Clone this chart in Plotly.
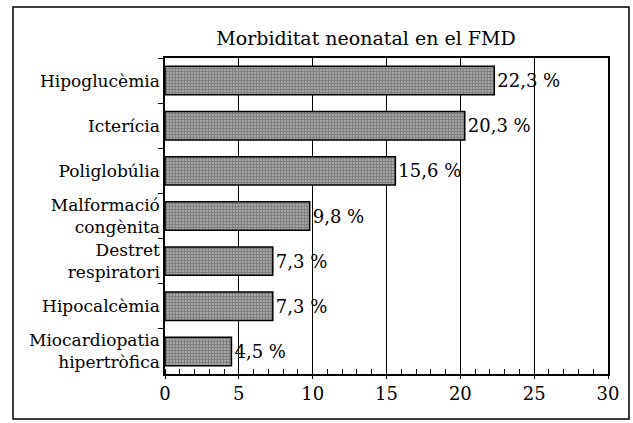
import plotly.graph_objects as go

categories = ["Hipoglucèmia", "Icterícia", "Poliglobúlia", "Malformació<br>congènita",
              "Destret<br>respiratori", "Hipocalcèmia", "Miocardiopatia<br>hipertròfica"]
values = [22.3, 20.3, 15.6, 9.8, 7.3, 7.3, 4.5]
value_labels = [f"{v:.1f}".replace(".", ",") + " %" for v in values]
x_ticks = [0, 5, 10, 15, 20, 25, 30]

FONT = "DejaVu Serif"

fig = go.Figure(go.Bar(
    x=values, y=categories, orientation="h",
    text=value_labels, textposition="outside", cliponaxis=False,
    textfont=dict(family=FONT, size=18, color="black"),
    marker=dict(color="white", line=dict(color="black", width=1.5),
                pattern=dict(shape=".", size=3, solidity=0.8, fgcolor="#000", bgcolor="#fff")),
    width=0.63,
))

L, R, T, B = 165, 25, 58, 49
W, H = 633, 423
pw, ph = W - L - R, H - T - B

fig.update_layout(
    width=W, height=H, margin=dict(l=L, r=R, t=T, b=B),
    paper_bgcolor="white", plot_bgcolor="white", showlegend=False,
    font=dict(family=FONT, size=17, color="black"),
    title=dict(text="Morbiditat neonatal en el FMD", x=366 / W, xanchor="center",
               y=1 - 38 / H, yanchor="middle", yref="container",
               font=dict(family=FONT, size=19, color="black")),
    xaxis=dict(range=[0, 30], tickvals=x_ticks, showgrid=True, gridcolor="black", gridwidth=1,
               showline=True, linecolor="black", linewidth=1.5, mirror=True,
               ticks="outside", ticklen=3, tickcolor="black", zeroline=False,
               minor=dict(ticks="inside", dtick=1, ticklen=5, tickcolor="black", showgrid=False),
               tickfont=dict(family=FONT, size=18)),
    yaxis=dict(autorange="reversed", showline=True, linecolor="black", linewidth=1.5, mirror=True,
               ticks="outside", ticklen=5, tickson="boundaries", tickcolor="black",
               showgrid=False, tickfont=dict(family=FONT, size=17)),
    shapes=[dict(type="rect", xref="paper", yref="paper",
                 x0=(13 - L) / pw, x1=(629 - L) / pw,
                 y0=(H - B - 419) / ph, y1=(H - B - 7) / ph,
                 line=dict(color="black", width=1.5))],
)

fig.write_html("out.html", config={"displayModeBar": False},
               post_script="document.body.style.margin='0';document.body.style.overflow='hidden';")
